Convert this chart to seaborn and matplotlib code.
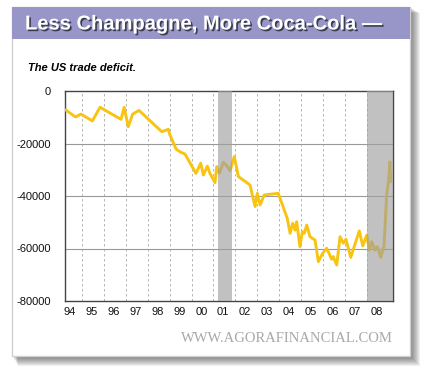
import numpy as np
import pandas as pd
import matplotlib
matplotlib.use("Agg")
import matplotlib.pyplot as plt
import matplotlib.patches as patches
import matplotlib.patheffects as pe
import seaborn as sns

# trade deficit (decimal year, millions $)
dates = [1994.25, 1994.7, 1994.95, 1995.47, 1995.82, 1996.78, 1996.92, 1997.11,
         1997.31, 1997.6, 1998.64, 1998.94, 1999.0, 1999.3, 1999.5, 1999.7,
         2000.2, 2000.42, 2000.54, 2000.72, 2000.84, 2001.07, 2001.15, 2001.27,
         2001.45, 2001.58, 2001.76, 2001.95, 2002.14, 2002.67, 2002.9, 2003.0,
         2003.13, 2003.32, 2003.96, 2004.37, 2004.5, 2004.62, 2004.73, 2004.8,
         2004.95, 2005.06, 2005.15, 2005.26, 2005.41, 2005.64, 2005.79, 2005.99,
         2006.17, 2006.4, 2006.47, 2006.63, 2006.78, 2006.93, 2007.05, 2007.27,
         2007.66, 2007.82, 2008.0, 2008.12, 2008.23, 2008.38, 2008.48, 2008.64,
         2008.79, 2008.91, 2009.0, 2009.06, 2009.1]
deficit = [-7200, -9900, -8800, -11400, -6200, -10800, -6200, -13600,
           -8800, -7400, -15500, -14600, -16500, -22200, -23300, -24000,
           -31400, -27500, -32000, -28600, -31400, -34900, -28800, -31400,
           -27200, -28200, -30400, -25000, -32600, -35800, -44000, -39000,
           -43400, -39600, -39000, -48500, -54200, -50400, -53000, -49800,
           -59300, -53600, -54200, -51100, -55500, -56800, -65000, -61800,
           -59900, -64100, -63100, -66300, -55500, -58000, -56500, -63400,
           -53300, -59000, -54900, -60600, -57400, -60600, -59300, -63400,
           -59000, -39600, -33900, -27000, -34500]

years = list(range(1994, 2009))
year_labels = ["94", "95", "96", "97", "98", "99", "00", "01", "02", "03",
               "04", "05", "06", "07", "08"]
y_ticks = [0, -20000, -40000, -60000, -80000]
recessions = [(2001.2, 2001.85), (2008.0, 2009.2)]

df = pd.DataFrame({"date": dates, "deficit": deficit})

sns.set_style("white")
plt.rcParams["font.family"] = ["Liberation Sans", "DejaVu Sans"]

W, H = 431, 378
fig = plt.figure(figsize=(W / 100, H / 100), dpi=100)
fig.patch.set_facecolor("white")

def px_rect(x0, y0, x1, y1, **kw):
    # rectangle in pixel coords (from top-left) -> figure coords
    return patches.Rectangle((x0 / W, 1 - y1 / H), (x1 - x0) / W, (y1 - y0) / H,
                             transform=fig.transFigure, zorder=-10, **kw)

# soft drop shadow
for i in range(10, 0, -1):
    fig.patches.append(px_rect(12 + i * 0.6, 7 + i * 0.6, 410 + i, 356 + i,
                               facecolor="black", edgecolor="none", alpha=0.06))
fig.patches.append(px_rect(12, 7, 410, 356, facecolor="white",
                           edgecolor="#d0d0d0", linewidth=1))
fig.patches.append(px_rect(12, 7, 410, 39, facecolor="#9896c8", edgecolor="none"))

fig.text(25 / W, 1 - 24 / H, "Less Champagne, More Coca-Cola \u2014",
         color="white", fontsize=14.5, fontweight="bold", va="center", ha="left",
         path_effects=[pe.withSimplePatchShadow(offset=(1.2, -1.2),
                                                shadow_rgbFace="#333344", alpha=0.9)])
fig.text(28 / W, 1 - 68 / H, "The US trade deficit.", color="black",
         fontsize=8, fontweight="bold", fontstyle="italic", va="center", ha="left")
fig.text(393 / W, 1 - 338 / H, "WWW.AGORAFINANCIAL.COM",
         color="#a8a8a8", fontsize=10.5, va="center", ha="right",
         family=["Liberation Serif", "DejaVu Serif"])

ax = fig.add_axes([65 / W, 1 - 301 / H, (393 - 65) / W, (301 - 91) / H])
ax.set_facecolor("white")

sns.lineplot(data=df, x="date", y="deficit", ax=ax, color="#f8c414",
             linewidth=2.1, zorder=3)

for a, b in recessions:
    ax.axvspan(a, b, color="#a0a0a0", alpha=0.65, linewidth=0, zorder=4)

for yr in years[1:]:
    ax.axvline(yr, color="#aaaaaa", linewidth=0.6, linestyle=(0, (3, 3)), zorder=1)
for yv in y_ticks[1:-1]:
    ax.axhline(yv, color="#999999", linewidth=0.8, zorder=1)

ax.set_xlim(1994.22, 2009.2)
ax.set_ylim(-80000, 0)
ax.set_yticks(y_ticks)
ax.set_yticklabels([str(v) for v in y_ticks])
ax.set_xticks([y + 0.45 for y in years])
ax.set_xticklabels(year_labels)
ax.tick_params(axis="both", length=0, labelsize=8, colors="#111111", pad=4)
ax.tick_params(axis="y", pad=10)
ax.set_xlabel("")
ax.set_ylabel("")
for s in ax.spines.values():
    s.set_color("#444444")
    s.set_linewidth(1)

fig.savefig("out.png", dpi=100)
